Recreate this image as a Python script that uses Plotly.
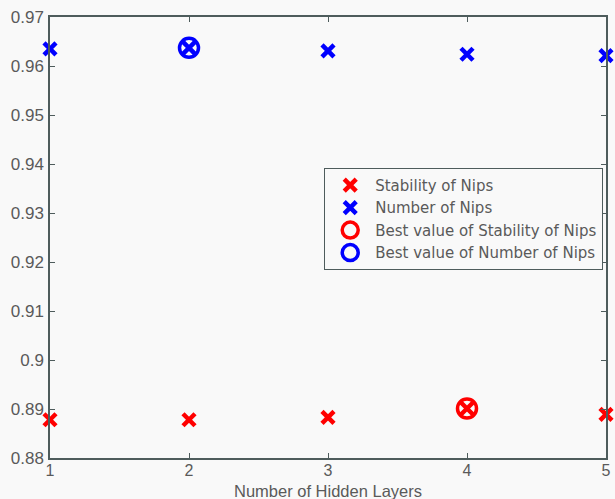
import plotly.graph_objects as go

# Hidden-layer count on the x axis
layers = [1, 2, 3, 4, 5]

# Accuracy for each target
stability_of_nips = [0.8878, 0.8878, 0.8883, 0.8901, 0.8889]
number_of_nips = [0.9635, 0.9637, 0.9631, 0.9624, 0.9621]

# Best configuration per target
best_stability_layer = [4]
best_stability_value = [0.8901]
best_number_layer = [2]
best_number_value = [0.9637]

y_ticks = [0.88, 0.89, 0.90, 0.91, 0.92, 0.93, 0.94, 0.95, 0.96, 0.97]
y_tick_text = ["0.88", "0.89", "0.9", "0.91", "0.92", "0.93", "0.94", "0.95", "0.96", "0.97"]
x_ticks = [1, 2, 3, 4, 5]

RED = "#ff0000"
BLUE = "#0000ff"
BG = "#f9f9f9"
AXIS = "#4e5c5c"
TEXT = "#5a5a5a"
FONT = "Liberation Sans, Arial"

fig = go.Figure()

fig.add_trace(go.Scatter(
    x=layers, y=stability_of_nips, mode="markers", name="Stability of Nips",
    marker=dict(symbol="x-thin", size=12, color=RED, line=dict(color=RED, width=4.5)),
    cliponaxis=False,
))
fig.add_trace(go.Scatter(
    x=layers, y=number_of_nips, mode="markers", name="Number of Nips",
    marker=dict(symbol="x-thin", size=12, color=BLUE, line=dict(color=BLUE, width=4.5)),
    cliponaxis=False,
))
fig.add_trace(go.Scatter(
    x=best_stability_layer, y=best_stability_value, mode="markers",
    name="Best value of Stability of Nips",
    marker=dict(symbol="circle-open", size=19, color=RED, line=dict(color=RED, width=3.5)),
    cliponaxis=False,
))
fig.add_trace(go.Scatter(
    x=best_number_layer, y=best_number_value, mode="markers",
    name="Best value of Number of Nips",
    marker=dict(symbol="circle-open", size=19, color=BLUE, line=dict(color=BLUE, width=3.5)),
    cliponaxis=False,
))

axis_common = dict(
    showline=True, linecolor=AXIS, linewidth=1.5, mirror="ticks",
    ticks="inside", ticklen=5, tickcolor=AXIS, tickwidth=1,
    showgrid=False, zeroline=False, automargin=False,
)

fig.update_xaxes(
    range=[1, 5], tickvals=x_ticks, ticklabelstandoff=-3,
    tickfont=dict(family=FONT, size=16, color=TEXT),
    **axis_common,
)
fig.update_yaxes(
    range=[0.88, 0.97], tickvals=y_ticks, ticktext=y_tick_text,
    ticklabelstandoff=1,
    tickfont=dict(family=FONT, size=17, color=TEXT),
    **axis_common,
)

# x-axis title placed just under the tick labels
fig.add_annotation(
    text="Number of Hidden Layers", xref="paper", yref="paper",
    x=0.5, y=-0.074, xanchor="center", yanchor="middle", showarrow=False,
    font=dict(family=FONT, size=16.5, color=TEXT),
)

fig.update_layout(
    width=615, height=499,
    margin=dict(l=50, r=9, t=17, b=41),
    paper_bgcolor=BG, plot_bgcolor=BG,
    showlegend=True,
    legend=dict(
        x=0.995, y=0.658, xanchor="right", yanchor="top",
        bgcolor=BG, bordercolor=AXIS, borderwidth=1,
        font=dict(family="DejaVu Sans", size=15, color=TEXT),
        tracegroupgap=0, itemsizing="trace", itemwidth=40,
    ),
)

fig.write_html("out.html")
